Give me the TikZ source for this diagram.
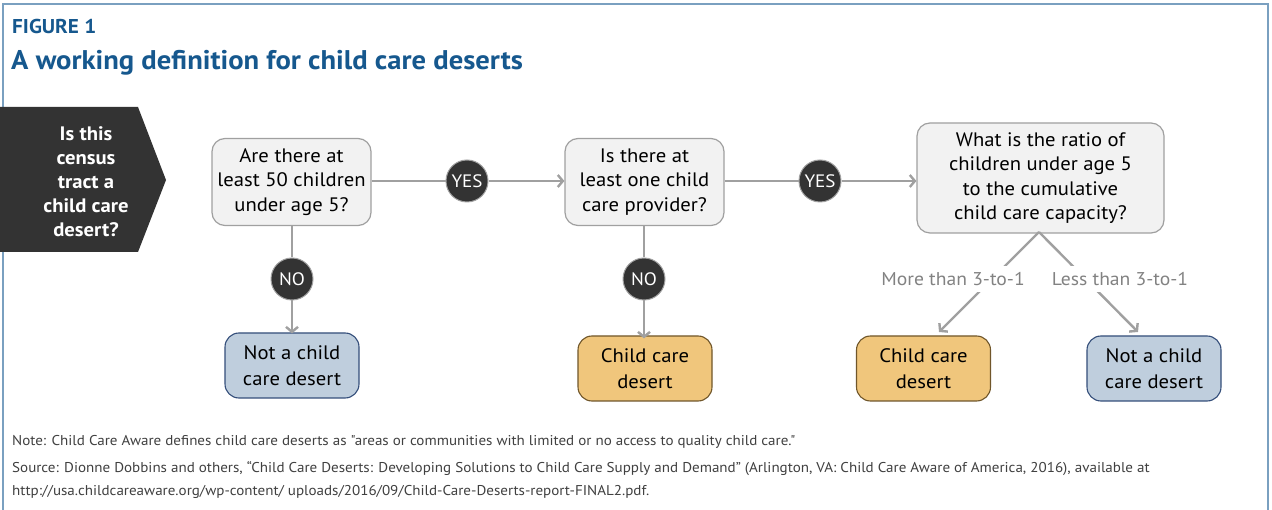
\documentclass[tikz,border=0pt]{standalone}
\usepackage{fontspec}
\setmainfont{PT Sans}[FakeStretch=1.06, Ligatures=TeXOff]
\usetikzlibrary{arrows.meta}
\definecolor{titleblue}{RGB}{22,88,142}
\definecolor{framec}{RGB}{122,160,192}
\definecolor{darkc}{RGB}{51,51,51}
\definecolor{qfill}{RGB}{242,242,242}
\definecolor{qdraw}{RGB}{160,160,160}
\definecolor{connc}{RGB}{160,160,160}
\definecolor{bfill}{RGB}{191,206,221}
\definecolor{bdraw}{RGB}{52,78,122}
\definecolor{ofill}{RGB}{240,198,124}
\definecolor{odraw}{RGB}{112,86,42}
\definecolor{lblc}{RGB}{130,130,130}
\definecolor{notec}{RGB}{64,64,64}
\tikzset{
  qbox/.style={draw=qdraw, fill=qfill, line width=1.2pt, rounded corners=13pt, align=center, inner sep=0pt,
    font=\fontsize{19.5}{24.5}\selectfont, text=black},
  bres/.style={draw=bdraw, fill=bfill, line width=1.1pt, rounded corners=14pt, align=center, inner sep=0pt,
    minimum width=134, minimum height=65, font=\fontsize{19.5}{26}\selectfont, text=black},
  ores/.style={bres, draw=odraw, fill=ofill},
  circ/.style={circle, draw=qdraw, fill=darkc, line width=1pt, minimum size=42, inner sep=0pt,
    text=white, font=\fontsize{18}{18}\selectfont},
  conn/.style={draw=connc, line width=2.4pt},
  arr/.style={conn, -{Straight Barb[length=5pt,width=12pt,line width=2.4pt]}},
  lbl/.style={fill=white, text=lblc, inner sep=1pt, minimum height=26, font=\fontsize{18.5}{20}\selectfont},
  notet/.style={anchor=base west, text=notec, inner sep=0pt, font=\fontsize{14.2}{16}\selectfont}
}
\begin{document}
\begin{tikzpicture}[x=1pt,y=-1pt]
\useasboundingbox (0,0) rectangle (1272,510);
\fill[white] (0,0) rectangle (1272,510);
\draw[framec, line width=2pt] (3,512) -- (3,4) -- (1268,4) -- (1268,512);

% titles
\node[anchor=base west, inner sep=0pt, text=titleblue, font=\bfseries\fontsize{20}{22}\selectfont] (fig) at (12,34) {FIGURE 1};
\node[anchor=base west, inner sep=0pt, text=titleblue, font=\bfseries\fontsize{27}{30}\selectfont] (title) at (11,70) {A working definition for child care deserts};

% left arrow shape
\fill[darkc] (0,107) -- (138,107) -- (166,180) -- (138,252) -- (0,252) -- cycle;
\node[align=center, text=white, inner sep=0pt, font=\bfseries\fontsize{19.5}{24}\selectfont] (intro) at (86,182) {Is this\\census\\tract a\\child care\\desert?};

% question boxes
\node[qbox, minimum width=159, minimum height=87] (q1) at (291.5,182) {Are there at\\least 50 children\\under age 5?};
\node[qbox, minimum width=159, minimum height=87] (q2) at (644.5,182) {Is there at\\least one child\\care provider?};
\node[qbox, minimum width=247, minimum height=110] (q3) at (1040.5,178) {What is the ratio of\\children under age 5\\to the cumulative\\child care capacity?};

% results
\node[bres] (r1) at (292,365.5) {Not a child\\care desert};
\node[ores] (r2) at (645,368.5) {Child care\\desert};
\node[ores] (r3) at (923.5,368.5) {Child care\\desert};
\node[bres] (r4) at (1154,368.5) {Not a child\\care desert};

% circles
\node[circ] (y1) at (467,181) {YES};
\node[circ] (y2) at (820,181) {YES};
\node[circ] (n1) at (292,279) {NO};
\node[circ] (n2) at (644,279) {NO};

% connectors
\draw[conn] (q1.east |- y1) -- (y1);
\draw[arr] (y1) -- (q2.west |- y1);
\draw[conn] (q2.east |- y2) -- (y2);
\draw[arr] (y2) -- (q3.west |- y2);
\draw[conn] (q1.south -| n1) -- (n1);
\draw[arr] (n1) -- ([yshift=-1pt]r1.north -| n1);
\draw[conn] (q2.south -| n2) -- (n2);
\draw[arr] (n2) -- ([yshift=-3pt]r2.north -| n2);

\coordinate (q3b) at (1039,232);
\coordinate (a3) at (939,332);
\coordinate (a4) at (1138,332);
\draw[arr] (q3b) -- (a3);
\draw[arr] (q3b) -- (a4);
\node[lbl] (l3) at (953,279) {More than 3-to-1};
\node[lbl] (l4) at (1120,279) {Less than 3-to-1};

% notes
\node[notet] (note) at (12,446) {Note: Child Care Aware defines child care deserts as "areas or communities with limited or no access to quality child care."};
\node[notet] (src) at (12,472) {Source: Dionne Dobbins and others, “Child Care Deserts: Developing Solutions to Child Care Supply and Demand” (Arlington, VA: Child Care Aware of America, 2016), available at};
\node[notet] (url) at (12,495) {http://usa.childcareaware.org/wp-content/ uploads/2016/09/Child-Care-Deserts-report-FINAL2.pdf.};
\end{tikzpicture}
\end{document}
